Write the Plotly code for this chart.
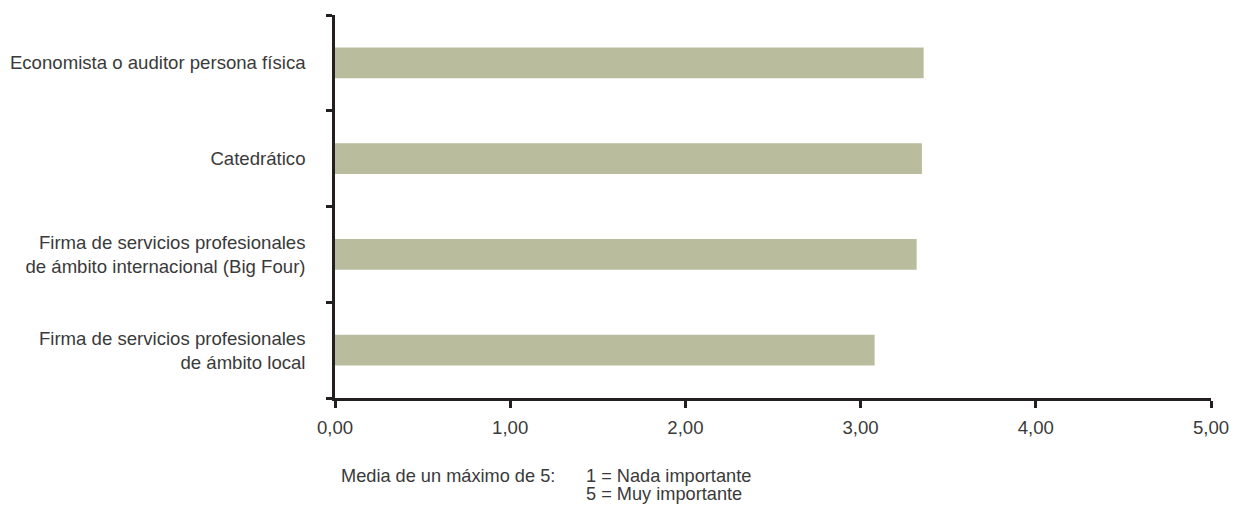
import plotly.graph_objects as go

categories = [
    "Economista o auditor persona física",
    "Catedrático",
    "Firma de servicios profesionales<br>de ámbito internacional (Big Four)",
    "Firma de servicios profesionales<br>de ámbito local",
]
values = [3.36, 3.35, 3.32, 3.08]
x_tickvals = [0, 1, 2, 3, 4, 5]
x_ticktext = ["0,00", "1,00", "2,00", "3,00", "4,00", "5,00"]
note_label = "Media de un máximo de 5:"
note_lines = ["1 = Nada importante", "5 = Muy importante"]

BAR_COLOR = "#b9bd9d"
AXIS_COLOR = "#231f20"
TEXT_COLOR = "#3a3a3a"
FONT = "Liberation Sans, Arial, sans-serif"
FS = 18.6
FS_NOTE = 18.2

PLOT_X0, PLOT_X1 = 335, 1211
PLOT_Y0, PLOT_Y1 = 15, 398
W, H = 1234, 506
L = PLOT_X0
T = PLOT_Y0
R = W - PLOT_X1
B = H - PLOT_Y1

fig = go.Figure()
fig.add_trace(go.Bar(
    x=values,
    y=categories,
    orientation="h",
    marker=dict(color=BAR_COLOR, line=dict(width=0)),
    width=0.32,
    hoverinfo="x+y",
))

fig.update_layout(
    width=W, height=H,
    margin=dict(l=L, r=R, t=T, b=B, pad=0, autoexpand=False),
    paper_bgcolor="white",
    plot_bgcolor="white",
    showlegend=False,
    font=dict(family=FONT, size=FS, color=TEXT_COLOR),
    xaxis=dict(
        range=[0, 5],
        tickvals=x_tickvals,
        ticktext=x_ticktext,
        automargin=False,
        showgrid=False,
        zeroline=False,
        showline=True,
        linecolor=AXIS_COLOR,
        linewidth=2.5,
        ticks="outside",
        ticklen=7,
        tickwidth=2.5,
        tickcolor=AXIS_COLOR,
        ticklabelstandoff=4,
        tickfont=dict(size=FS, color=TEXT_COLOR),
        fixedrange=True,
    ),
    yaxis=dict(
        type="category",
        categoryorder="array",
        categoryarray=categories[::-1],
        range=[-0.5, 3.5],
        tickson="boundaries",
        automargin=False,
        showgrid=False,
        zeroline=False,
        showline=True,
        linecolor=AXIS_COLOR,
        linewidth=2.5,
        ticks="outside",
        ticklen=6,
        tickwidth=2.5,
        tickcolor=AXIS_COLOR,
        ticklabelstandoff=23,
        tickfont=dict(size=FS, color=TEXT_COLOR),
        fixedrange=True,
    ),
)

pw = PLOT_X1 - PLOT_X0
ph = PLOT_Y1 - PLOT_Y0


def px_x(px):
    return (px - PLOT_X0) / pw


def px_y(py):
    return (PLOT_Y1 - py) / ph


fig.add_annotation(
    text=note_label,
    xref="paper", yref="paper",
    x=px_x(339), y=px_y(476),
    xanchor="left", yanchor="middle",
    showarrow=False,
    font=dict(size=FS_NOTE, color=TEXT_COLOR),
)
for i, line in enumerate(note_lines):
    fig.add_annotation(
        text=line,
        xref="paper", yref="paper",
        x=px_x(584), y=px_y(476 + 18 * i),
        xanchor="left", yanchor="middle",
        showarrow=False,
        font=dict(size=FS_NOTE, color=TEXT_COLOR),
    )

fig.write_html(
    "out.html",
    config={"displayModeBar": False},
    post_script="document.body.style.margin='0';document.body.style.overflow='hidden';",
)
